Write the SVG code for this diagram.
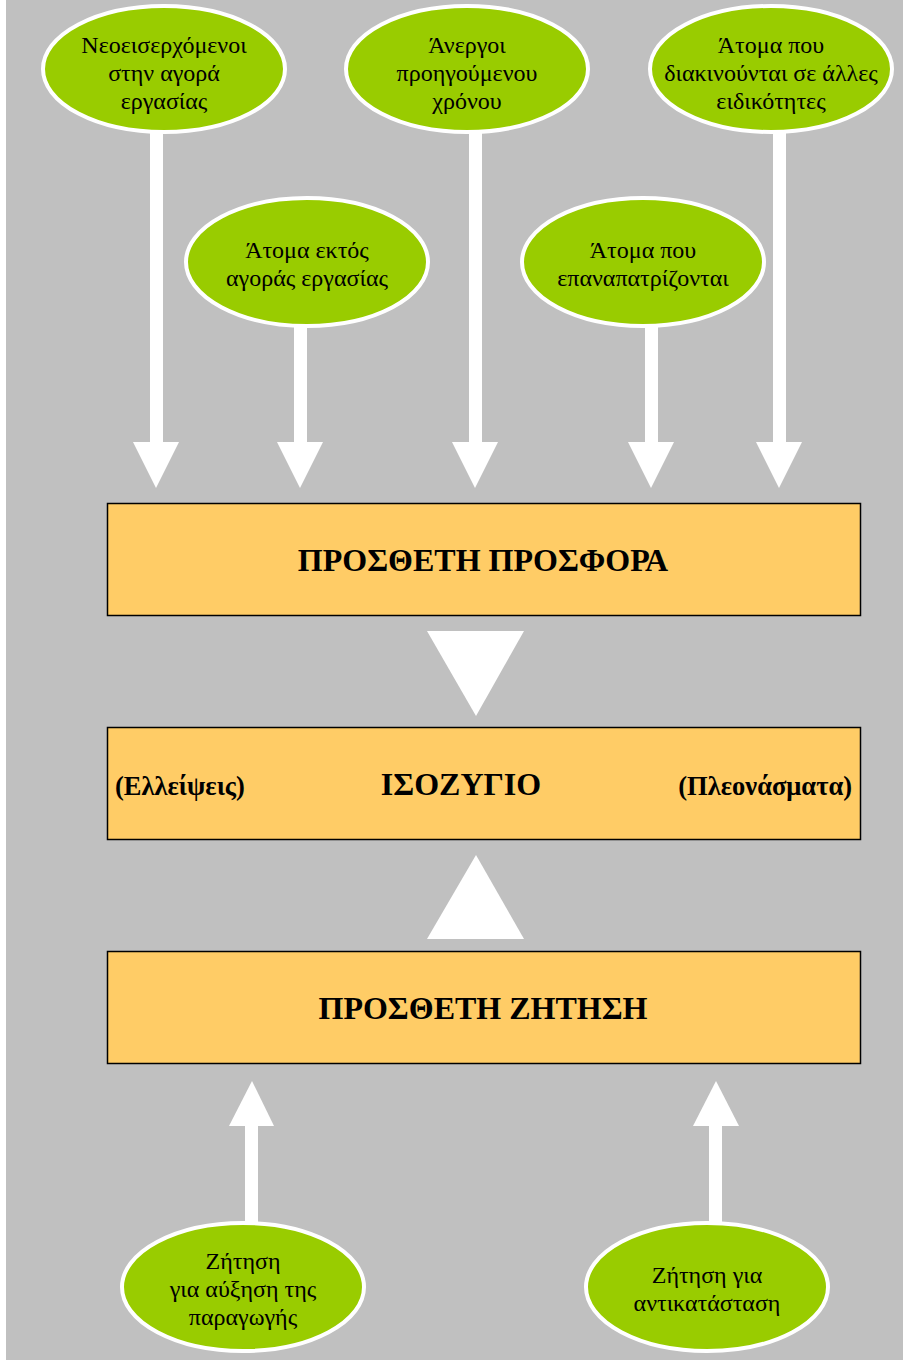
<svg xmlns="http://www.w3.org/2000/svg" width="903" height="1360" viewBox="0 0 903 1360">
<style>
.bg{fill:#C0C0C0}
.ell{fill:#99CC00;stroke:#FFFFFF;stroke-width:4}
.box{fill:#FFCC66;stroke:#000000;stroke-width:1.5}
.et{font-family:"Liberation Serif","Times New Roman",serif;font-size:24px;fill:#000;text-anchor:middle}
.bt{font-family:"Liberation Serif","Times New Roman",serif;font-size:32px;font-weight:bold;fill:#000;text-anchor:middle}
.st{font-family:"Liberation Serif","Times New Roman",serif;font-size:26.5px;font-weight:bold;fill:#000}
.arr{fill:#FFFFFF}
</style>
<rect x="0" y="0" width="903" height="1360" fill="#FFFFFF"/>
<rect class="bg" x="6" y="0" width="897" height="1360"/>
<g id="connectors">
<rect class="arr" x="150" y="132" width="13" height="312"/>
<polygon class="arr" points="133,442 179,442 156,488"/>
<rect class="arr" x="294" y="327" width="13" height="117"/>
<polygon class="arr" points="277,442 323,442 300,488"/>
<rect class="arr" x="469" y="132" width="13" height="312"/>
<polygon class="arr" points="452,442 498,442 475,488"/>
<rect class="arr" x="645" y="327" width="13" height="117"/>
<polygon class="arr" points="628,442 674,442 651,488"/>
<rect class="arr" x="773" y="132" width="13" height="312"/>
<polygon class="arr" points="756,442 802,442 779,488"/>
<polygon class="arr" points="427,631 524,631 476,716"/>
<polygon class="arr" points="476,855 524,939 427,939"/>
<rect class="arr" x="245" y="1124" width="13" height="102"/>
<polygon class="arr" points="252,1081 274,1126 229,1126"/>
<rect class="arr" x="709" y="1124" width="13" height="102"/>
<polygon class="arr" points="716,1081 739,1126 693,1126"/>
</g>
<g id="n1">
<ellipse class="ell" cx="164" cy="69" rx="121" ry="63"/>
<text class="et" x="164" y="53">Νεοεισερχόμενοι</text>
<text class="et" x="164" y="81">στην αγορά</text>
<text class="et" x="164" y="109">εργασίας</text>
</g>
<g id="n2">
<ellipse class="ell" cx="467" cy="69" rx="121" ry="63"/>
<text class="et" x="467" y="53">Άνεργοι</text>
<text class="et" x="467" y="81">προηγούμενου</text>
<text class="et" x="467" y="109">χρόνου</text>
</g>
<g id="n3">
<ellipse class="ell" cx="771" cy="69" rx="121" ry="63"/>
<text class="et" x="771" y="53">Άτομα που</text>
<text class="et" x="771" y="81">διακινούνται σε άλλες</text>
<text class="et" x="771" y="109">ειδικότητες</text>
</g>
<g id="n4">
<ellipse class="ell" cx="307" cy="262" rx="121" ry="64"/>
<text class="et" x="307" y="258">Άτομα εκτός</text>
<text class="et" x="307" y="286">αγοράς εργασίας</text>
</g>
<g id="n5">
<ellipse class="ell" cx="643" cy="262" rx="121" ry="64"/>
<text class="et" x="643" y="258">Άτομα που</text>
<text class="et" x="643" y="286">επαναπατρίζονται</text>
</g>
<g id="b1">
<rect class="box" x="107.5" y="503.5" width="753" height="112"/>
<text class="bt" x="483" y="571">ΠΡΟΣΘΕΤΗ ΠΡΟΣΦΟΡΑ</text>
</g>
<g id="b2">
<rect class="box" x="107.5" y="727.5" width="753" height="112"/>
<text class="bt" x="461" y="795">ΙΣΟΖΥΓΙΟ</text>
<text class="st" x="115" y="795">(Ελλείψεις)</text>
<text class="st" x="852" y="795" text-anchor="end">(Πλεονάσματα)</text>
</g>
<g id="b3">
<rect class="box" x="107.5" y="951.5" width="753" height="112"/>
<text class="bt" x="483" y="1019">ΠΡΟΣΘΕΤΗ ΖΗΤΗΣΗ</text>
</g>
<g id="n6">
<ellipse class="ell" cx="243" cy="1287" rx="121" ry="64"/>
<text class="et" x="243" y="1269">Ζήτηση</text>
<text class="et" x="243" y="1297">για αύξηση της</text>
<text class="et" x="243" y="1325">παραγωγής</text>
</g>
<g id="n7">
<ellipse class="ell" cx="707" cy="1287" rx="121" ry="64"/>
<text class="et" x="707" y="1283">Ζήτηση για</text>
<text class="et" x="707" y="1311">αντικατάσταση</text>
</g>
</svg>
